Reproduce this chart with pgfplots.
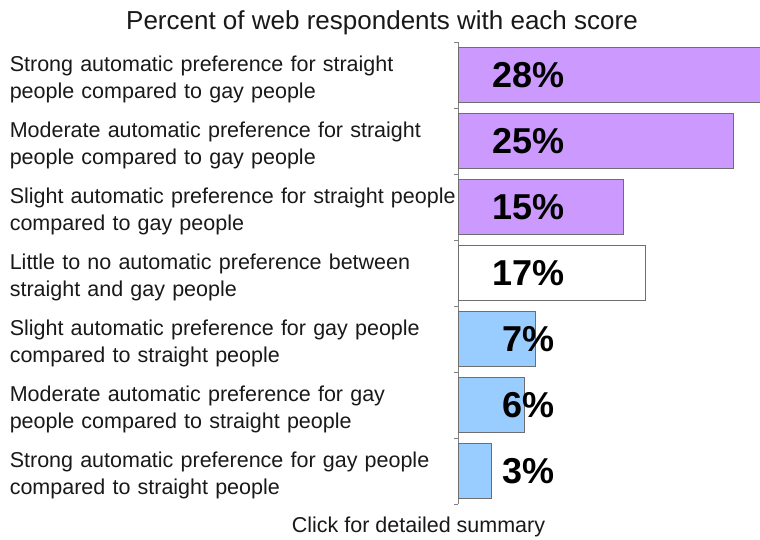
\documentclass[border=0pt]{standalone}
\usepackage{pgfplots}
\pgfplotsset{compat=1.18}
\usepackage{fontspec}
\setmainfont{Liberation Sans}
\definecolor{lilac}{HTML}{CC99FF}
\definecolor{sky}{HTML}{99CCFF}
\definecolor{edge}{HTML}{6E6E6E}
\definecolor{axisgray}{HTML}{808080}
\hyphenpenalty=10000
\exhyphenpenalty=10000
\begin{document}
\begin{tikzpicture}[x=1pt,y=1pt]
\useasboundingbox (0,0) rectangle (760,540);
\begin{axis}[
  at={(458pt,36pt)}, anchor=south west,
  scale only axis, width=302pt, height=462pt,
  xmin=0, xmax=27.45, ymin=0.5, ymax=7.5, y dir=reverse,
  axis x line=none, axis y line*=left,
  axis line style={draw=axisgray, line width=1pt},
  ytick={1,...,7},
  yticklabels={
    {Strong automatic preference for straight\\people compared to gay people},
    {Moderate automatic preference for straight\\people compared to gay people},
    {Slight automatic preference for straight people\\compared to gay people},
    {Little to no automatic preference between\\straight and gay people},
    {Slight automatic preference for gay people\\compared to straight people},
    {Moderate automatic preference for gay\\people compared to straight people},
    {Strong automatic preference for gay people\\compared to straight people}},
  major tick length=0pt,
  minor ytick={0.5,1.5,...,7.5},
  minor tick length=4pt, tick align=outside,
  minor tick style={draw=axisgray, line width=0.8pt},
  yticklabel style={text width=447pt, align=left, inner sep=0pt, xshift=-1pt, yshift=-4pt,
    font=\fontsize{21.5}{27}\selectfont, text=black!90},
]
\addplot[xbar, bar width=55pt, bar shift=0pt, fill=lilac, draw=edge, line width=1pt] coordinates {(28,1) (25,2) (15,3)};
\addplot[xbar, bar width=55pt, bar shift=0pt, fill=white, draw=edge, line width=1pt] coordinates {(17,4)};
\addplot[xbar, bar width=55pt, bar shift=0pt, fill=sky, draw=edge, line width=1pt] coordinates {(7,5) (6,6) (3,7)};
\addplot[draw=none, mark=none, nodes near coords, point meta=explicit symbolic,
  nodes near coords style={anchor=center, font=\fontsize{36}{40}\selectfont\bfseries, text=black}]
  coordinates {(6.4,1)[28\%] (6.4,2)[25\%] (6.4,3)[15\%] (6.4,4)[17\%] (6.4,5)[7\%] (6.4,6)[6\%] (6.4,7)[3\%]};
\end{axis}
\node[font=\fontsize{26}{30}\selectfont, anchor=base, text=black!90] at (382,510) {Percent of web respondents with each score};
\node[font=\fontsize{21.5}{26}\selectfont, anchor=base, text=black!90] at (418.5,7) {Click for detailed summary};
\end{tikzpicture}
\end{document}
